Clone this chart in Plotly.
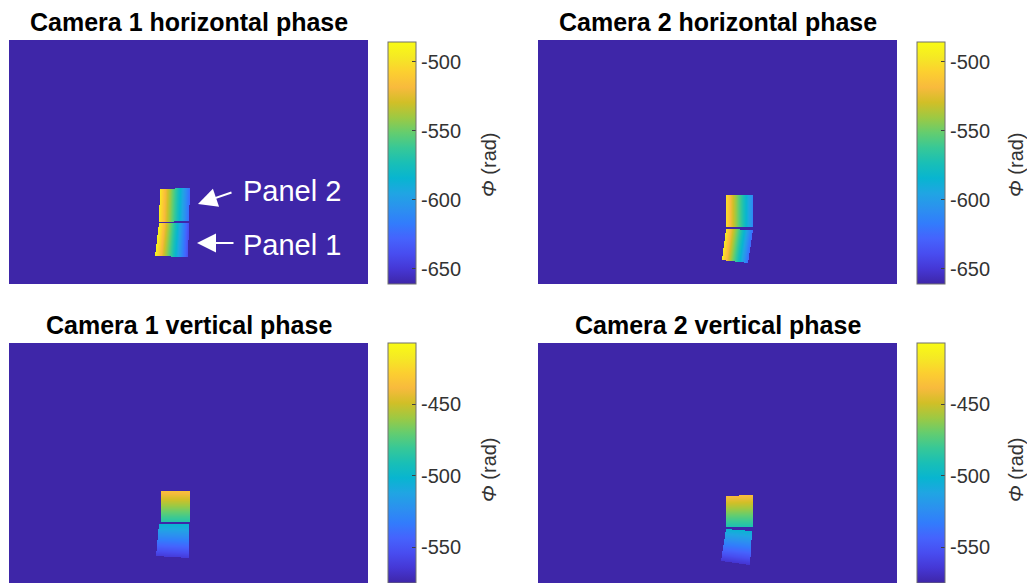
import numpy as np
import plotly.graph_objects as go

W, H = 1027, 583

# ---------------- data ----------------
titles = ["Camera 1 horizontal phase", "Camera 2 horizontal phase",
          "Camera 1 vertical phase", "Camera 2 vertical phase"]
orientations = ["h", "h", "v", "v"]

# Panel corners (image pixel coords): TL, TR, BR, BL
cam1_h_upper = [[151, 149], [181, 148], [180, 181], [150, 182]]
cam1_h_lower = [[150, 183], [180, 183], [179, 217], [146, 216]]
cam2_h_upper = [[188, 155], [215, 155], [215, 187], [188, 187]]
cam2_h_lower = [[188, 189], [215, 190], [210, 223], [184, 220]]
cam1_v_upper = [[152, 148], [181, 148], [181, 179], [152, 179]]
cam1_v_lower = [[150, 181], [180, 181], [180, 215], [147, 213]]
cam2_v_upper = [[188, 153], [215, 152], [215, 184], [188, 184]]
cam2_v_lower = [[188, 186], [214, 188], [212, 222], [183, 218]]

# Phase at panel edges (rad): horizontal -> [left, right], vertical -> [top, bottom]
cam1_h_upper_phase = [-495, -625]
cam1_h_lower_phase = [-490, -640]
cam2_h_upper_phase = [-500, -612]
cam2_h_lower_phase = [-495, -625]
cam1_v_upper_phase = [-435, -487]
cam1_v_lower_phase = [-502, -563]
cam2_v_upper_phase = [-437, -490]
cam2_v_lower_phase = [-502, -566]

panels = [
    [(cam1_h_upper, cam1_h_upper_phase), (cam1_h_lower, cam1_h_lower_phase)],
    [(cam2_h_upper, cam2_h_upper_phase), (cam2_h_lower, cam2_h_lower_phase)],
    [(cam1_v_upper, cam1_v_upper_phase), (cam1_v_lower, cam1_v_lower_phase)],
    [(cam2_v_upper, cam2_v_upper_phase), (cam2_v_lower, cam2_v_lower_phase)],
]

# colorbar ranges and ticks
h_crange = [-661, -485.7]
v_crange = [-575, -407.3]
h_ticks = [-650, -600, -550, -500]
v_ticks = [-550, -500, -450]
h_ticktext = ["-650", "-600", "-550", "-500"]
v_ticktext = ["-550", "-500", "-450"]

# ---------------- style ----------------
parula = [
    [0.2422, 0.1504, 0.6603], [0.2706, 0.2147, 0.8364], [0.2813, 0.3006, 0.9414],
    [0.2699, 0.3892, 0.9906], [0.1963, 0.4847, 0.9892], [0.1687, 0.5703, 0.9359],
    [0.1248, 0.6459, 0.8883], [0.0297, 0.7082, 0.8163], [0.0964, 0.7500, 0.7120],
    [0.2161, 0.7843, 0.5923], [0.3909, 0.8029, 0.4354], [0.6174, 0.7876, 0.2612],
    [0.8203, 0.7498, 0.1535], [0.9728, 0.7298, 0.2394], [0.9892, 0.8136, 0.1885],
    [0.9597, 0.9135, 0.1423], [0.9769, 0.9839, 0.0805],
]
n = len(parula)
colorscale = [[i / (n - 1), "rgb(%d,%d,%d)" % tuple(round(c * 255) for c in col)]
              for i, col in enumerate(parula)]
bg = colorscale[0][1]

FONT = "Liberation Sans, Arial, sans-serif"


def px(x):
    return x / W


def py(y):
    return 1 - y / H


IMG_W = 359
x_dom = [[9, 368], [538, 897], [9, 368], [538, 897]]
y_scr = [[40, 284], [40, 284], [343, 583], [343, 583]]
cb_x = [388, 917, 388, 917]
cb_scr = [[42, 284], [42, 284], [343, 583], [343, 583]]
lab_x = [489, 1016, 489, 1016]
lab_y = [165, 165, 470, 470]

U0, U1, V0, V1 = 135, 230, 135, 235


def build_z(panel_list, orient):
    us = np.arange(U0, U1) + 0.5
    vs = np.arange(V0, V1) + 0.5
    uu, vv = np.meshgrid(us, vs)
    z = np.full(uu.shape, np.nan)
    for corners, phase in panel_list:
        TL, TR, BR, BL = [np.array(c, float) for c in corners]
        fl = (vv - TL[1]) / (BL[1] - TL[1])
        xl = TL[0] + fl * (BL[0] - TL[0])
        fr = (vv - TR[1]) / (BR[1] - TR[1])
        xr = TR[0] + fr * (BR[0] - TR[0])
        s = (uu - xl) / (xr - xl)
        yt = TL[1] + s * (TR[1] - TL[1])
        yb = BL[1] + s * (BR[1] - BL[1])
        t = (vv - yt) / (yb - yt)
        inside = (s >= 0) & (s <= 1) & (t >= 0) & (t <= 1)
        f = s if orient == "h" else t
        val = phase[0] + f * (phase[1] - phase[0])
        z[inside] = val[inside]
    return us, vs, z


fig = go.Figure()
annotations = []
for i in range(4):
    ax_id = "" if i == 0 else str(i + 1)
    us, vs, z = build_z(panels[i], orientations[i])
    horiz = orientations[i] == "h"
    crange = h_crange if horiz else v_crange
    ticks = h_ticks if horiz else v_ticks
    ticktext = h_ticktext if horiz else v_ticktext
    cb_len = cb_scr[i][1] - cb_scr[i][0]
    fig.add_trace(go.Heatmap(
        x=us, y=vs, z=z, xaxis="x" + ax_id, yaxis="y" + ax_id,
        colorscale=colorscale, zmin=crange[0], zmax=crange[1],
        hoverongaps=False,
        colorbar=dict(
            x=px(cb_x[i]), xanchor="left", xpad=0,
            y=py(cb_scr[i][0]), yanchor="top", ypad=0,
            len=cb_len, lenmode="pixels", thickness=28,
            outlinewidth=1, outlinecolor="#707070",
            tickvals=ticks, ticktext=ticktext, ticks="inside", ticklen=4,
            tickcolor="#404040",
            tickfont=dict(family=FONT, size=20, color="#333333"),
        ),
    ))
    dom_x = [px(x_dom[i][0]), px(x_dom[i][1])]
    dom_y = [max(0, py(y_scr[i][1])), py(y_scr[i][0])]
    img_h = y_scr[i][1] - y_scr[i][0]
    fig.update_layout(**{
        "xaxis" + ax_id: dict(domain=dom_x, range=[0, IMG_W], visible=False,
                              anchor="y" + ax_id),
        "yaxis" + ax_id: dict(domain=dom_y, range=[img_h, 0], visible=False,
                              anchor="x" + ax_id),
    })
    # title
    annotations.append(dict(
        text="<b>%s</b>" % titles[i], xref="paper", yref="paper",
        x=(px(x_dom[i][0]) + px(x_dom[i][1])) / 2,
        y=py(y_scr[i][0] - 18), xanchor="center", yanchor="middle",
        showarrow=False, font=dict(family=FONT, size=25, color="#000000")))
    # colorbar label
    annotations.append(dict(
        text="<i>Φ</i> (rad)", xref="paper", yref="paper",
        x=px(lab_x[i]), y=py(lab_y[i]),
        xanchor="center", yanchor="middle", textangle=-90, showarrow=False,
        font=dict(family=FONT, size=20, color="#333333")))

# panel labels in the first subplot
panel_labels = ["Panel 2", "Panel 1"]
label_pos = [[232, 151], [232, 205]]
arrow_heads = [[189, 164], [188, 203]]
arrow_tails = [[224, 152], [226, 203]]
for lab, lp, hd, tl in zip(panel_labels, label_pos, arrow_heads, arrow_tails):
    annotations.append(dict(
        text=lab, x=lp[0], y=lp[1], xref="x", yref="y", xanchor="left",
        yanchor="middle", showarrow=False,
        font=dict(family=FONT, size=29, color="white")))
    annotations.append(dict(
        text="", x=hd[0], y=hd[1], xref="x", yref="y",
        ax=tl[0], ay=tl[1], axref="x", ayref="y", showarrow=True,
        arrowhead=2, arrowsize=1.9, arrowwidth=2, arrowcolor="white"))

fig.update_layout(
    width=W, height=H, margin=dict(l=0, r=0, t=0, b=0),
    paper_bgcolor="white", plot_bgcolor=bg, showlegend=False,
    annotations=annotations,
)

fig.write_html(
    "out.html",
    config={"displayModeBar": False},
    post_script="document.body.style.margin='0';document.body.style.overflow='hidden';",
)
